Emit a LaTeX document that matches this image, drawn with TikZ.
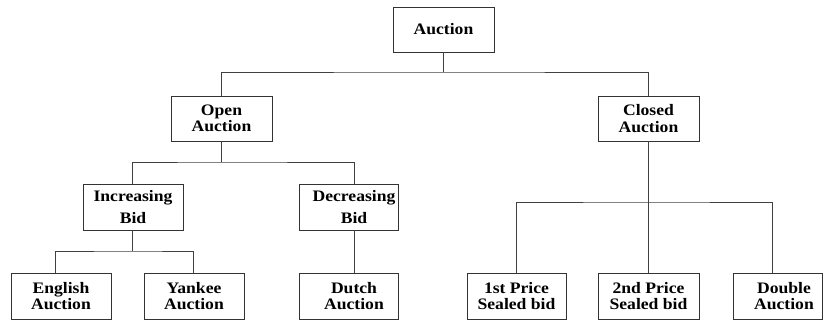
\documentclass[tikz,border=0pt]{standalone}
\usepackage{fontspec}
\setmainfont{Liberation Serif}[FakeStretch=1.1]
\begin{document}
\begin{tikzpicture}[x=1pt,y=-1pt,
  box/.style={draw=black!80, line width=0.8pt, fill=white, align=center,
    inner sep=0pt, minimum height=45pt,
    font=\bfseries\fontsize{16}{16.5}\selectfont},
  link/.style={draw=black!75, line width=0.8pt}]
\useasboundingbox (0,0) rectangle (823,320);

% level 0
\node[box, minimum width=101pt] (auction) at (443.5,29.5) {Auction};

% level 1
\node[box, minimum width=101pt] (open)   at (221.5,118.5) {Open\\Auction};
\node[box, minimum width=101pt] (closed) at (648.5,118.5) {Closed\\Auction};

% level 2
\node[box, minimum width=100pt, minimum height=46pt] (incr) at (133,207)
  {Increasing\\[5pt]Bid};
\node[box, minimum width=99pt, minimum height=46pt] (decr) at (348.5,207)
  {\hspace*{11pt}Decreasing\\[5pt]\hspace*{11pt}Bid};

% level 3
\node[box, minimum width=100pt, minimum height=46pt] (english) at (61,296)
  {English\\Auction};
\node[box, minimum width=100pt, minimum height=46pt] (yankee)  at (194,296)
  {Yankee\\Auction};
\node[box, minimum width=99pt, minimum height=46pt]  (dutch)   at (348.5,296)
  {\hspace*{11pt}Dutch\\\hspace*{11pt}Auction};
\node[box, minimum width=99pt, minimum height=46pt]  (first)   at (516.5,296)
  {1st Price\\Sealed bid};
\node[box, minimum width=101pt, minimum height=46pt] (second)  at (648.5,296)
  {2nd Price\\Sealed bid};
\node[box, minimum width=89pt, minimum height=46pt]  (double)  at (777.5,296)
  {\hspace*{13pt}Double\\\hspace*{13pt}Auction};

% junction points of the tree
\coordinate (bar0) at (443.5,72);
\coordinate (bar1) at (221.5,162);
\coordinate (bar2) at (132,251);
\coordinate (bar3) at (648.5,202);

% connectors
\draw[link] (auction.south) -- (bar0);
\draw[link] (open.north) |- (bar0) -| (closed.north);

\draw[link] (open.south) -- (bar1);
\draw[link] ([xshift=-1pt]incr.north) |- (bar1) -| ([xshift=5.5pt]decr.north);

\draw[link] ([xshift=-1pt]incr.south) -- (bar2);
\draw[link] ([xshift=-6pt]english.north) |- (bar2) -| ([xshift=-1pt]yankee.north);

\draw[link] ([xshift=5.5pt]decr.south) -- ([xshift=5.5pt]dutch.north);

\draw[link] (closed.south) -- (second.north);
\draw[link] ([xshift=-0.5pt]first.north) |- (bar3) -| ([xshift=-5.5pt]double.north);
\end{tikzpicture}
\end{document}
